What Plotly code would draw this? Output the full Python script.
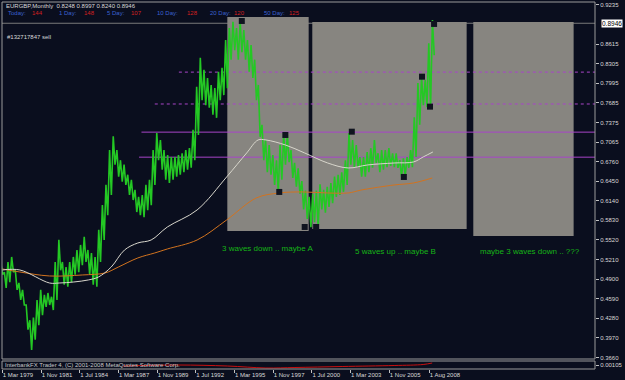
import pandas as pd
import plotly.graph_objects as go

# ---------------- data ----------------
symbol_line = "EURGBP,Monthly  0.8248 0.8997 0.8240 0.8946"
range_labels = ["Today:", "1 Day:", "5 Day:", "10 Day:", "20 Day:", "50 Day:"]
range_values = ["144", "148", "107", "128", "120", "125"]
order_label = "#132717847 sell"
last_price = 0.8946

first_quarter = "1979-01-01"
q_high = [0.516, 0.501, 0.517, 0.525, 0.504, 0.484, 0.473, 0.449, 0.425, 0.429,
          0.457, 0.473, 0.465, 0.468, 0.462, 0.517, 0.552, 0.517, 0.509, 0.517,
          0.525, 0.536, 0.544, 0.557, 0.536, 0.531, 0.525, 0.568, 0.607, 0.639,
          0.694, 0.716, 0.694, 0.678, 0.671, 0.655, 0.647, 0.631, 0.620, 0.623,
          0.639, 0.647, 0.694, 0.721, 0.710, 0.694, 0.686, 0.683, 0.683, 0.686,
          0.689, 0.694, 0.697, 0.726, 0.794, 0.840, 0.821, 0.808, 0.797, 0.792,
          0.818, 0.824, 0.868, 0.887, 0.897, 0.887, 0.897, 0.884, 0.868, 0.860,
          0.837, 0.797, 0.734, 0.710, 0.702, 0.686, 0.678, 0.702, 0.718, 0.718,
          0.694, 0.674, 0.665, 0.645, 0.630, 0.620, 0.625, 0.630, 0.640, 0.631,
          0.636, 0.642, 0.652, 0.655, 0.659, 0.678, 0.721, 0.710, 0.702, 0.683,
          0.683, 0.691, 0.697, 0.710, 0.689, 0.694, 0.694, 0.697, 0.689, 0.689,
          0.678, 0.681, 0.683, 0.694, 0.746, 0.800, 0.810, 0.805, 0.863, 0.8997]
q_low = [0.497, 0.476, 0.485, 0.501, 0.473, 0.457, 0.449, 0.410, 0.378, 0.394,
         0.417, 0.433, 0.446, 0.449, 0.441, 0.457, 0.504, 0.481, 0.478, 0.485,
         0.497, 0.501, 0.512, 0.517, 0.497, 0.481, 0.478, 0.517, 0.552, 0.591,
         0.623, 0.671, 0.652, 0.644, 0.639, 0.623, 0.615, 0.596, 0.591, 0.588,
         0.599, 0.607, 0.639, 0.678, 0.663, 0.647, 0.642, 0.647, 0.652, 0.655,
         0.659, 0.663, 0.666, 0.678, 0.718, 0.773, 0.765, 0.761, 0.750, 0.745,
         0.773, 0.781, 0.792, 0.837, 0.852, 0.837, 0.849, 0.837, 0.818, 0.808,
         0.773, 0.715, 0.678, 0.659, 0.655, 0.639, 0.628, 0.647, 0.671, 0.675,
         0.650, 0.636, 0.625, 0.600, 0.585, 0.572, 0.580, 0.572, 0.600, 0.595,
         0.604, 0.610, 0.620, 0.623, 0.628, 0.639, 0.671, 0.667, 0.667, 0.652,
         0.652, 0.659, 0.666, 0.674, 0.659, 0.663, 0.667, 0.669, 0.667, 0.666,
         0.652, 0.653, 0.666, 0.667, 0.683, 0.734, 0.765, 0.762, 0.762, 0.844]

ma_slow_dates = ["1979-03-01", "1980-05-15", "1982-06-01", "1983-02-01", "1984-02-01",
                 "1985-02-01", "1985-10-15", "1986-09-01", "1987-08-01", "1988-07-01",
                 "1989-06-01", "1990-07-15", "1992-08-01", "1994-08-15", "1996-01-01",
                 "1996-10-15", "1997-05-01", "1998-09-01", "2000-01-01", "2001-08-01",
                 "2003-01-01", "2004-05-01", "2006-03-01", "2007-07-01", "2008-03-01",
                 "2008-11-01"]
ma_slow = [0.5044, 0.5044, 0.4838, 0.4838, 0.4854, 0.4886, 0.4933, 0.5091, 0.5360,
           0.5471, 0.5518, 0.5724, 0.5993, 0.6515, 0.6894, 0.7100, 0.7100, 0.7021,
           0.6894, 0.6736, 0.6657, 0.6705, 0.6736, 0.6752, 0.6831, 0.6910]

ma_long_dates = ["1979-03-01", "1980-05-15", "1982-06-01", "1984-09-01", "1986-04-01",
                 "1987-03-01", "1988-07-01", "1989-09-01", "1990-07-15", "1992-08-01",
                 "1994-08-15", "1996-09-01", "1998-04-01", "1999-11-01", "2001-08-01",
                 "2003-01-01", "2003-12-01", "2006-03-01", "2007-07-01", "2008-10-15"]
ma_long = [0.5060, 0.5012, 0.4949, 0.4965, 0.4997, 0.5091, 0.5234, 0.5313, 0.5376,
           0.5518, 0.5835, 0.6183, 0.6262, 0.6278, 0.6262, 0.6262, 0.6309, 0.6388,
           0.6420, 0.6499]

pivot_dates = ["1995-09-01", "1998-04-01", "1998-09-01", "2000-01-01", "2000-10-15",
               "2003-04-01", "2006-11-01", "2008-02-01", "2008-08-20", "2008-12-01"]
pivot_prices = [0.8982, 0.6278, 0.7179, 0.5724, 0.5724, 0.7231, 0.6515, 0.8101,
                0.7627, 0.8935]

level_prices = [0.8173, 0.7669, 0.7224, 0.6828]
level_starts = ["1991-05-01", "1989-09-01", "1988-10-01", "1988-08-01"]
level_dash = ["dot", "dot", "solid", "solid"]

box_starts = ["1994-09-01", "2000-07-10", "2011-08-15"]
box_ends = ["2000-04-10", "2011-03-01", "2018-07-15"]
box_tops = [0.9045, 0.8966, 0.8966]
box_bottoms = [0.5661, 0.5692, 0.5582]

notes = ["3 waves down .. maybe A", "5 waves up .. maybe B", "maybe 3 waves down .. ???"]
note_dates = ["1994-03-01", "2003-05-01", "2011-12-01"]
note_prices = [0.5376, 0.5329, 0.5329]

ind_dates = ["1987-07-01", "1991-04-01", "1994-09-01", "1997-05-01", "1999-05-01",
             "2002-08-01", "2006-03-01", "2008-03-01", "2008-10-15"]
ind_values = [3.0, 4.0, 3.0, 1.0, 1.5, 2.5, 3.5, 4.5, 6.0]

tick_dates = ["1979-03-01", "1981-11-01", "1984-07-01", "1987-03-01", "1989-11-01",
              "1992-07-01", "1995-03-01", "1997-11-01", "2000-07-01", "2003-03-01",
              "2005-11-01", "2008-08-01"]
tick_text = ["1 Mar 1979", "1 Nov 1981", "1 Jul 1984", "1 Mar 1987", "1 Nov 1989",
             "1 Jul 1992", "1 Mar 1995", "1 Nov 1997", "1 Jul 2000", "1 Mar 2003",
             "1 Nov 2005", "1 Aug 2008"]
price_ticks = [0.9235, 0.8615, 0.8305, 0.7995, 0.7685, 0.7375, 0.7065, 0.6760, 0.6450,
               0.6140, 0.5830, 0.5520, 0.5210, 0.4900, 0.4590, 0.4280, 0.3970, 0.3660]

# ---------------- figure ----------------
W, H = 625, 380
ML, MR, MT, MB = 2, 22, 2, 11
BG = "#0a0e1e"
FONT = "Liberation Sans"
GREEN = "#24c824"
X_RANGE = ["1979-02-20", "2020-01-04"]
Y_RANGE = [0.3636, 0.9282]
plot_h = H - MT - MB
main_dom = [(369 - 359) / plot_h, 1.0]
sub_dom = [0.0, 8 / plot_h]


def px(xp):
    return (xp - ML) / (W - ML - MR)


def py(yp):
    return (H - MB - yp) / plot_h


# each quarter's range drawn as a high -> low stroke, strokes joined in time order
q_starts = pd.date_range(first_quarter, periods=len(q_high), freq="QS")
zig_x, zig_y = [], []
for d, h, l in zip(q_starts, q_high, q_low):
    zig_x += [d + pd.Timedelta(days=20), d + pd.Timedelta(days=65)]
    zig_y += [h, l]

fig = go.Figure()
fig.add_trace(go.Scatter(x=zig_x, y=zig_y, mode="lines",
                         line=dict(color=GREEN, width=1.6), showlegend=False))
fig.add_trace(go.Scatter(x=ma_long_dates, y=ma_long, mode="lines",
                         line=dict(color="#d2731f", width=1, shape="spline"),
                         showlegend=False))
fig.add_trace(go.Scatter(x=ma_slow_dates, y=ma_slow, mode="lines",
                         line=dict(color="#d8d6cc", width=1, shape="spline"),
                         showlegend=False))
fig.add_trace(go.Scatter(x=pivot_dates, y=pivot_prices, mode="markers",
                         marker=dict(symbol="square", size=6, color="#10141f",
                                     line=dict(width=0)), showlegend=False))
fig.add_trace(go.Scatter(x=ind_dates, y=ind_values, mode="lines", yaxis="y2",
                         line=dict(color="#c81010", width=1, shape="spline"),
                         showlegend=False))

shapes = []
for x0, x1, y0, y1 in zip(box_starts, box_ends, box_bottoms, box_tops):
    shapes.append(dict(type="rect", xref="x", yref="y", x0=x0, x1=x1, y0=y0, y1=y1,
                       fillcolor="#878580", line=dict(width=0), layer="below"))
for lv, st, ds in zip(level_prices, level_starts, level_dash):
    shapes.append(dict(type="line", xref="x", yref="y", x0=st, x1=X_RANGE[1], y0=lv, y1=lv,
                       line=dict(color="#a845c8", width=1, dash=ds), layer="below"))
shapes.append(dict(type="line", xref="paper", yref="y", x0=0, x1=1, y0=last_price,
                   y1=last_price, line=dict(color="#7a7a7a", width=1), layer="below"))
shapes.append(dict(type="rect", xref="paper", yref="paper", x0=0, x1=1,
                   y0=main_dom[0], y1=1, line=dict(color="#9a9a9a", width=1)))
shapes.append(dict(type="rect", xref="paper", yref="paper", x0=0, x1=1,
                   y0=0, y1=sub_dom[1], line=dict(color="#9a9a9a", width=1)))

ann = []
ann.append(dict(text=symbol_line, xref="paper", yref="paper", x=px(4), y=py(6),
                xanchor="left", yanchor="middle", showarrow=False,
                font=dict(family=FONT, size=6, color="#d8d8d8")))
lab_x = [6, 58, 106, 157, 211, 266]
val_x = [30, 83, 131, 187, 235, 291]
for t, v, lx, vx in zip(range_labels, range_values, lab_x, val_x):
    ann.append(dict(text=t, xref="paper", yref="paper", x=px(lx), y=py(13.5),
                    xanchor="left", yanchor="middle", showarrow=False,
                    font=dict(family=FONT, size=6, color="#3a62d0")))
    ann.append(dict(text=v, xref="paper", yref="paper", x=px(vx), y=py(13.5),
                    xanchor="left", yanchor="middle", showarrow=False,
                    font=dict(family=FONT, size=6, color="#d42020")))
ann.append(dict(text=order_label, xref="paper", yref="paper", x=px(5), y=py(37),
                xanchor="left", yanchor="middle", showarrow=False,
                font=dict(family=FONT, size=6, color="#d8d8d8")))
for t, d, p in zip(notes, note_dates, note_prices):
    ann.append(dict(text=t, xref="x", yref="y", x=d, y=p, xanchor="left",
                    yanchor="middle", showarrow=False,
                    font=dict(family=FONT, size=8, color="#16b416")))
ann.append(dict(text=f"{last_price:.4f}", xref="paper", yref="y", x=1, y=last_price,
                xanchor="left", yanchor="middle", xshift=6, showarrow=False,
                bgcolor="#ffffff", borderpad=0,
                font=dict(family=FONT, size=6.5, color="#000000")))
ann.append(dict(text="InterbankFX Trader 4, (C) 2001-2008 MetaQuotes Software Corp.",
                xref="paper", yref="paper", x=px(3), y=py(364.5), xanchor="left",
                yanchor="middle", showarrow=False,
                font=dict(family=FONT, size=6, color="#c8c8c8")))

fig.update_layout(
    width=W, height=H, margin=dict(l=ML, r=MR, t=MT, b=MB),
    paper_bgcolor=BG, plot_bgcolor=BG, showlegend=False,
    shapes=shapes, annotations=ann,
    xaxis=dict(type="date", range=X_RANGE, anchor="y2", showgrid=False, zeroline=False,
               tickvals=tick_dates, ticktext=tick_text, ticks="outside", ticklen=3,
               tickangle=0, tickcolor="#c0c0c0", ticklabelposition="outside right",
               tickfont=dict(family=FONT, size=6, color="#d8d8d8"), showline=False),
    yaxis=dict(domain=main_dom, range=Y_RANGE, side="right", anchor="x", showgrid=False,
               zeroline=False, tickvals=price_ticks,
               ticktext=[f"{v:.4f}" for v in price_ticks], ticks="outside", ticklen=3,
               tickcolor="#c0c0c0", tickfont=dict(family=FONT, size=6, color="#d8d8d8"),
               showline=False),
    yaxis2=dict(domain=sub_dom, range=[0, 8], side="right", anchor="x", showgrid=False,
                zeroline=False, tickvals=[4], ticktext=["0.00105"], ticks="outside",
                ticklen=3, tickcolor="#c0c0c0",
                tickfont=dict(family=FONT, size=6, color="#d8d8d8")),
)

fig.write_html("out.html")
